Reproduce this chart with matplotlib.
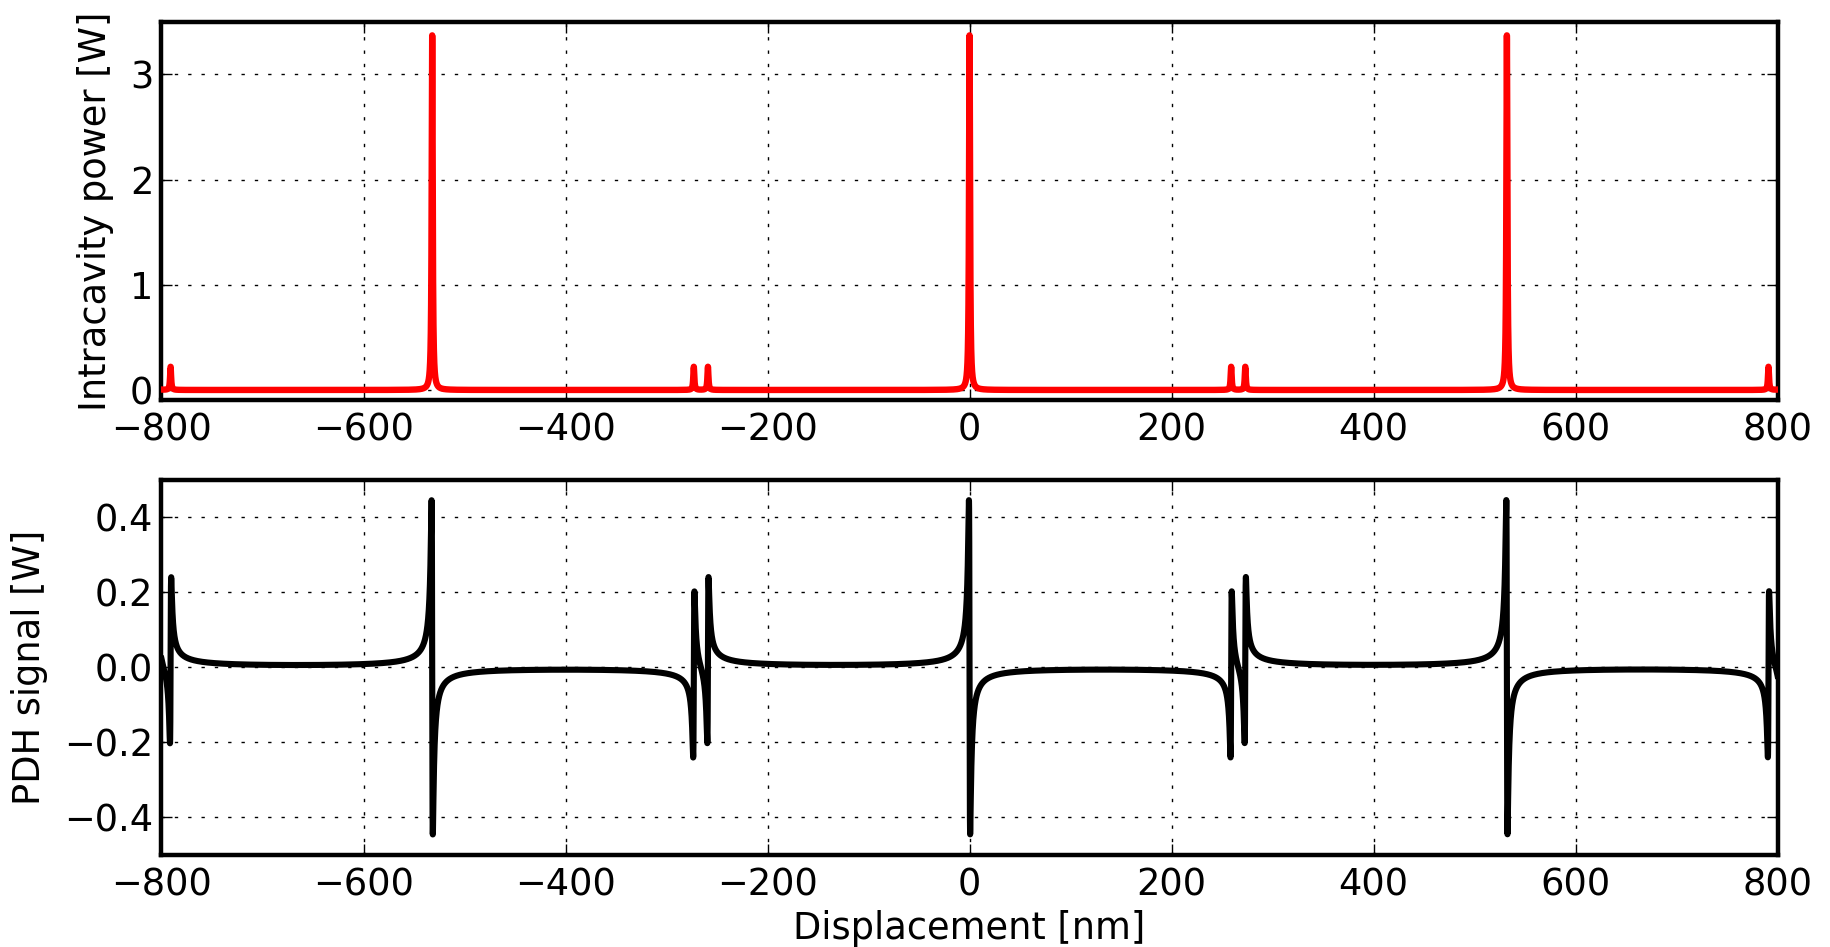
import numpy as np
import matplotlib
matplotlib.use("Agg")
import matplotlib.pyplot as plt

# ---- values ----
carrier_pos = [-1064.0, -532.0, 0.0, 532.0, 1064.0]          # nm, carrier resonances
sideband_pos = [-805.0, -791.0, -273.0, -259.0, 259.0, 273.0, 791.0, 805.0]  # nm
carrier_power = 3.37        # W, intracavity peak of carrier
sideband_power = 0.22       # W, intracavity peak of sidebands
carrier_pdh = 0.445         # W, PDH lobe of carrier
sideband_pdh = 0.222        # W, PDH lobe of sidebands
hwhm = 0.6                  # nm, resonance half width

x_range = (-800, 800)
top_yticks = [0, 1, 2, 3]
bot_yticks = [-0.4, -0.2, 0.0, 0.2, 0.4]
xticks = [-800, -600, -400, -200, 0, 200, 400, 600, 800]

# ---- build curves from the resonance parameters ----
x = np.linspace(x_range[0], x_range[1], 48001)
power = np.zeros_like(x)
pdh = np.zeros_like(x)
for c in carrier_pos:
    u = x - c
    power += carrier_power * hwhm**2 / (u**2 + hwhm**2)
    pdh += carrier_pdh * (-2 * u * hwhm) / (u**2 + hwhm**2)
for s in sideband_pos:
    u = x - s
    power += sideband_power * hwhm**2 / (u**2 + hwhm**2)
    pdh += sideband_pdh * (2 * u * hwhm) / (u**2 + hwhm**2)

FS = 26.5
plt.rcParams['font.family'] = ['DejaVu Sans']

fig = plt.figure(figsize=(18.3, 9.47), dpi=100)
ax1 = fig.add_axes([0.08825, 0.5771, 0.8831, 0.4])
ax2 = fig.add_axes([0.08825, 0.09715, 0.8831, 0.3965])

ax1.plot(x, power, color='#ff0000', lw=4.6, zorder=3)
ax2.plot(x, pdh, color='black', lw=4.4, zorder=3)

for ax in (ax1, ax2):
    ax.set_xlim(*x_range)
    ax.set_xticks(xticks)
    for sp in ax.spines.values():
        sp.set_linewidth(3.2)
    ax.grid(True, color='black', linestyle=(0, (2.4, 7.2)), lw=1.0)
    ax.set_axisbelow(False)
    ax.tick_params(direction='in', top=True, right=True, length=8, width=1,
                   labelsize=FS)
    ax.tick_params(axis='x', pad=8)
    ax.tick_params(axis='y', pad=6)

ax1.set_ylim(-0.1, 3.5)
ax1.set_yticks(top_yticks)
ax1.set_ylabel('Intracavity power [W]', fontsize=FS, labelpad=11.5)

ax2.set_ylim(-0.5, 0.5)
ax2.set_yticks(bot_yticks)
ax2.set_yticklabels(['\u22120.4', '\u22120.2', '0.0', '0.2', '0.4'])
ax2.set_ylabel('PDH signal [W]', fontsize=FS, labelpad=11.5)
ax2.set_xlabel('Displacement [nm]', fontsize=FS, labelpad=5)

fig.savefig('out.png', dpi=100)
